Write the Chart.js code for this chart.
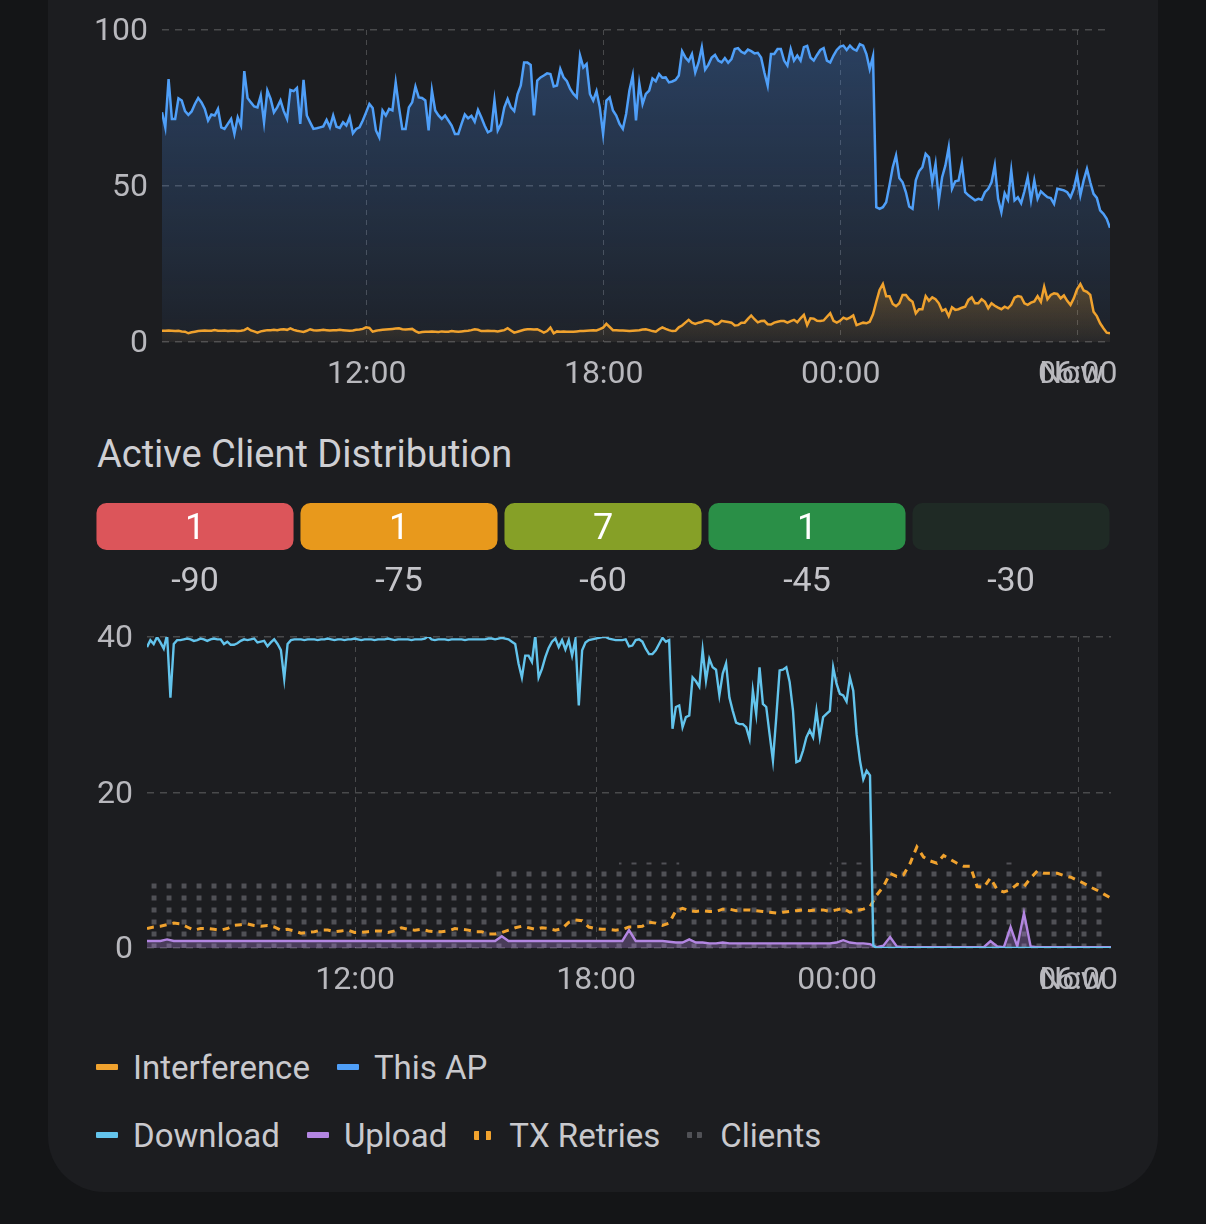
<!DOCTYPE html>
<html>
<head>
<meta charset="utf-8">
<script src="https://cdn.jsdelivr.net/npm/chart.js@4.4.1/dist/chart.umd.min.js"></script>
<style>
  html, body { margin: 0; padding: 0; width: 1206px; height: 1224px; overflow: hidden; background: #141517; font-family: Roboto, sans-serif; }
  .card { position: absolute; left: 48px; top: -80px; width: 1110px; height: 1272px; border-radius: 56px; background: #1c1d20; }
  .wrap { position: absolute; }
  .title { position: absolute; left: 97px; top: 432px; font-size: 38px; line-height: 44px; color: #cfcfd3; }
  .legend { position: absolute; left: 96px; height: 40px; display: flex; align-items: center; font-size: 33px; color: #c9c9cd; }
  .item { display: flex; align-items: center; margin-right: 27px; }
  .mark { display: inline-block; width: 22px; height: 6px; border-radius: 1px; margin-right: 15px; }
  .mark.pair { width: 17px; height: 9px; margin-right: 18px; }
</style>
</head>
<body>
<div class="card"></div>
<div class="wrap" style="left:90px;top:0px"><canvas id="apChart" width="1040" height="395"></canvas></div>
<div class="title">Active Client Distribution</div>
<div class="wrap" style="left:90px;top:490px"><canvas id="distChart" width="1030" height="120"></canvas></div>
<div class="wrap" style="left:90px;top:600px"><canvas id="trafficChart" width="1040" height="410"></canvas></div>
<div class="legend" id="apLegend" style="top:1047px"></div>
<div class="legend" id="trafficLegend" style="top:1115px"></div>

<script>
// window: last 24 h, starting 06:49 yesterday
const windowStart = 6 * 60 + 49;
const timeLabels = ['12:00', '18:00', '00:00', '06:00'];
const nowLabelAt = 1382; // app draws "Now" over the 06:00 label

// channel utilisation (%), one value per 5 min
const AP_STEP = 5;
const thisAp = [
  73.6, 68.8, 84.3, 71.5, 71.5, 78.1, 77.4, 74.0, 72.8, 73.9,
  76.3, 78.2, 76.8, 74.7, 71.0, 72.9, 72.6, 74.7, 68.8, 68.3,
  69.9, 71.5, 66.7, 72.0, 69.4, 86.8, 78.2, 76.8, 75.5, 75.2,
  79.0, 70.4, 80.6, 77.9, 73.6, 75.2, 77.4, 74.0, 71.5, 80.8,
  80.4, 81.4, 69.9, 84.0, 72.6, 70.4, 68.3, 68.5, 68.8, 69.1,
  71.2, 68.8, 72.6, 69.0, 68.6, 70.4, 69.4, 72.0, 66.9, 68.3,
  68.8, 71.0, 73.6, 76.3, 75.0, 67.8, 65.6, 74.2, 72.6, 74.7,
  74.2, 83.2, 75.2, 68.3, 68.3, 75.2, 76.8, 81.9, 78.4, 78.2,
  77.4, 67.8, 80.6, 74.2, 72.6, 71.5, 72.6, 71.0, 69.4, 66.7,
  66.7, 69.9, 72.9, 71.7, 72.5, 70.6, 74.4, 72.0, 69.4, 67.2,
  67.8, 77.4, 67.8, 69.9, 75.2, 77.9, 75.2, 74.0, 79.4, 82.2,
  89.6, 89.6, 88.8, 72.6, 83.8, 84.8, 85.4, 86.1, 85.9, 81.9,
  82.2, 87.5, 84.8, 83.6, 81.1, 79.5, 78.4, 91.8, 88.0, 89.1,
  79.5, 77.4, 80.4, 75.2, 66.7, 77.4, 78.4, 74.2, 72.6, 69.9,
  68.3, 73.1, 80.6, 85.4, 71.0, 82.9, 76.3, 79.5, 80.6, 84.5,
  83.6, 85.9, 84.7, 84.8, 83.2, 83.5, 84.0, 85.4, 93.2, 91.2,
  90.0, 92.3, 86.4, 89.6, 94.5, 87.3, 88.9, 91.2, 92.0, 90.2,
  89.6, 91.0, 89.5, 90.7, 93.9, 94.2, 93.0, 92.5, 93.7, 93.2,
  92.5, 92.7, 91.2, 86.4, 82.2, 92.3, 92.3, 93.9, 93.9, 90.2,
  88.6, 93.9, 90.2, 91.8, 90.2, 94.5, 94.9, 91.2, 90.2, 92.0,
  93.6, 94.2, 90.2, 89.6, 91.8, 93.6, 94.7, 95.0, 93.6, 95.0,
  93.9, 93.4, 95.5, 95.0, 92.3, 87.5, 91.6, 43.2, 42.7, 43.2,
  44.8, 50.2, 56.0, 59.8, 52.6, 51.2, 48.0, 43.4, 42.7, 51.8,
  54.7, 56.0, 60.3, 59.2, 51.2, 57.1, 45.4, 52.8, 56.6, 62.4,
  49.1, 51.5, 51.8, 57.1, 48.0, 47.0, 46.2, 45.4, 45.9, 45.6,
  48.0, 49.1, 51.2, 56.6, 45.9, 41.6, 47.7, 45.6, 55.0, 45.4,
  46.4, 44.5, 48.3, 52.8, 45.4, 51.8, 45.9, 48.3, 47.3, 46.4,
  46.1, 44.3, 49.1, 48.9, 48.6, 48.0, 46.4, 49.1, 53.7, 47.0,
  51.8, 55.5, 51.2, 47.5, 46.2, 42.2, 41.1, 39.5, 36.6
];
const interference = [
  3.6, 3.6, 3.7, 3.6, 3.5, 3.6, 3.4, 3.3, 2.8, 3.1,
  3.3, 3.5, 3.6, 3.7, 3.6, 3.6, 3.8, 3.6, 3.6, 3.7,
  3.5, 3.6, 3.6, 3.5, 3.6, 3.8, 4.4, 3.7, 3.4, 3.0,
  3.4, 3.6, 3.8, 3.8, 3.9, 3.8, 4.0, 4.1, 3.9, 4.4,
  3.9, 3.6, 3.4, 3.2, 3.6, 4.1, 3.8, 3.7, 3.8, 3.9,
  3.8, 3.7, 3.8, 3.8, 3.9, 3.8, 3.7, 3.6, 3.7, 3.9,
  4.0, 4.2, 4.7, 4.5, 3.3, 3.6, 3.8, 3.9, 4.0, 4.1,
  4.2, 4.3, 4.4, 4.1, 4.0, 4.1, 4.2, 3.5, 3.0, 3.2,
  3.3, 3.3, 3.4, 3.3, 3.2, 3.4, 3.3, 3.3, 3.5, 3.4,
  3.3, 3.4, 3.5, 3.6, 3.8, 4.1, 3.9, 3.5, 3.5, 3.6,
  3.5, 3.5, 3.4, 3.6, 3.8, 4.4, 3.7, 3.0, 3.3, 3.6,
  3.9, 4.1, 4.1, 4.0, 4.1, 3.6, 3.0, 3.5, 4.6, 2.8,
  3.4, 3.3, 3.4, 3.3, 3.3, 3.3, 3.4, 3.5, 3.5, 3.6,
  3.7, 3.8, 3.7, 4.1, 4.6, 5.8, 4.8, 3.8, 3.8, 3.7,
  3.7, 3.6, 3.5, 3.6, 3.7, 3.8, 4.0, 4.1, 3.8, 3.5,
  3.3, 4.1, 4.7, 4.2, 3.8, 3.5, 3.6, 4.7, 5.3, 6.2,
  7.1, 6.2, 5.8, 6.2, 6.4, 6.9, 6.8, 6.5, 5.6, 5.8,
  6.8, 6.6, 6.4, 6.2, 5.3, 5.4, 6.2, 6.2, 7.4, 8.5,
  7.3, 6.3, 6.7, 6.8, 5.7, 5.6, 6.2, 6.5, 6.7, 6.7,
  6.2, 6.7, 7.1, 6.3, 7.6, 8.7, 5.4, 7.6, 7.5, 6.8,
  6.7, 6.9, 8.1, 9.2, 6.8, 6.2, 6.8, 7.8, 7.3, 7.8,
  8.5, 5.4, 5.8, 6.2, 6.0, 6.5, 8.9, 12.9, 16.7, 18.6,
  14.7, 14.7, 12.2, 11.5, 12.4, 15.1, 15.1, 13.7, 12.9, 9.2,
  10.5, 10.5, 14.7, 13.2, 14.3, 13.7, 12.4, 10.0, 10.5, 8.3,
  11.1, 10.3, 10.5, 11.0, 11.3, 13.5, 14.3, 12.4, 12.4, 13.7,
  12.9, 10.8, 12.4, 11.6, 11.0, 10.5, 11.3, 10.8, 11.9, 14.2,
  14.7, 14.5, 12.4, 11.9, 12.6, 13.0, 14.7, 12.9, 17.7, 13.7,
  15.1, 15.6, 15.4, 14.0, 14.9, 13.2, 11.9, 14.0, 16.9, 18.6,
  16.5, 16.1, 15.1, 9.7, 8.3, 6.0, 4.4, 3.0, 2.8
];

// RSSI buckets (dBm) and active clients in each
const rssiBins = ['-90', '-75', '-60', '-45', '-30'];
const rssiCounts = [1, 1, 7, 1, 0];
const binColors = ['#dc555a', '#e8991c', '#86a027', '#2a8f47', '#1f2a25'];

// traffic chart: download per 5 min
const RATE_STEP = 5;
const download = [
  38.7, 39.6, 39.1, 40.0, 39.3, 38.5, 40.3, 32.2, 39.1, 39.6,
  39.6, 39.7, 39.8, 39.7, 39.5, 39.6, 39.8, 39.7, 39.5, 39.7,
  39.8, 39.7, 39.7, 39.1, 39.4, 39.0, 39.0, 39.2, 39.5, 39.7,
  39.6, 39.7, 39.8, 39.3, 39.4, 39.5, 38.8, 39.3, 39.7, 39.1,
  38.3, 34.6, 39.1, 39.6, 39.7, 39.7, 39.7, 39.6, 39.7, 39.7,
  39.7, 39.6, 39.7, 39.7, 39.8, 39.7, 39.6, 39.7, 39.7, 39.6,
  39.7, 39.7, 39.8, 39.7, 39.6, 39.7, 39.7, 39.7, 39.6, 39.7,
  39.7, 39.7, 39.8, 39.7, 39.6, 39.7, 39.7, 39.7, 39.7, 39.6,
  39.7, 39.7, 39.7, 39.8, 40.1, 39.7, 39.6, 39.7, 39.7, 39.7,
  39.6, 39.7, 39.7, 39.7, 39.7, 39.6, 39.7, 39.7, 39.7, 39.7,
  39.7, 39.7, 39.8, 39.8, 39.7, 39.8, 39.9, 39.8, 39.7, 39.4,
  39.1, 36.6, 34.8, 37.6, 37.6, 36.8, 40.2, 34.8, 35.9, 37.4,
  38.6, 39.4, 39.8, 38.7, 39.6, 38.4, 39.6, 37.6, 39.7, 31.2,
  38.3, 39.3, 39.6, 39.7, 39.8, 39.9, 40.0, 40.0, 39.8, 39.7,
  39.6, 39.6, 39.6, 39.7, 38.8, 38.9, 39.6, 39.7, 39.4, 38.5,
  37.8, 37.8, 38.3, 39.1, 39.9, 39.4, 39.6, 28.2, 31.0, 31.2,
  28.4, 29.7, 29.9, 34.8, 34.3, 33.6, 38.3, 34.4, 37.2, 36.1,
  35.8, 32.5, 35.3, 36.6, 32.2, 30.5, 29.0, 28.8, 28.8, 28.4,
  26.9, 33.1, 30.1, 36.1, 31.4, 31.0, 27.5, 24.1, 29.7, 35.7,
  35.8, 36.1, 34.2, 30.5, 23.9, 24.1, 25.4, 27.1, 28.0, 27.1,
  30.5, 27.1, 29.7, 30.1, 30.5, 36.1, 34.0, 32.7, 32.5, 31.7,
  34.8, 33.1, 27.5, 24.1, 21.7, 22.8, 22.2, 0.3, 0, 0,
  0, 0, 0, 0, 0, 0, 0, 0, 0, 0,
  0, 0, 0, 0, 0, 0, 0, 0, 0, 0,
  0, 0, 0, 0, 0, 0, 0, 0, 0, 0,
  0, 0, 0, 0, 0, 0, 0, 0, 0, 0,
  0, 0, 0, 0, 0, 0, 0, 0, 0, 0,
  0, 0, 0, 0, 0, 0, 0, 0, 0, 0,
  0, 0, 0, 0, 0, 0, 0, 0, 0
];

// upload and tx retries per 10 min
const SLOW_STEP = 10;
const upload = [
  0.9, 0.9, 0.9, 1.1, 0.9, 0.9, 0.9, 0.9, 0.9, 0.9,
  0.9, 0.9, 0.9, 0.9, 0.9, 0.9, 0.9, 0.9, 0.9, 0.9,
  0.9, 0.9, 0.9, 0.9, 0.9, 0.9, 0.9, 0.9, 0.9, 0.9,
  0.9, 0.9, 0.9, 0.9, 0.9, 0.9, 0.9, 0.9, 0.9, 0.9,
  0.9, 0.9, 0.9, 0.9, 0.9, 0.9, 0.9, 0.9, 0.9, 0.9,
  0.9, 0.9, 0.9, 1.5, 0.9, 0.9, 0.9, 0.9, 0.9, 0.9,
  0.9, 0.9, 0.9, 0.9, 0.9, 0.9, 0.9, 0.9, 0.9, 0.9,
  0.9, 0.9, 2.3, 0.9, 0.9, 0.9, 0.9, 0.9, 0.8, 0.7,
  0.7, 1.1, 0.7, 0.7, 0.6, 0.6, 0.7, 0.6, 0.6, 0.6,
  0.6, 0.6, 0.6, 0.6, 0.6, 0.6, 0.6, 0.6, 0.6, 0.6,
  0.6, 0.6, 0.6, 0.7, 1.0, 0.7, 0.6, 0.6, 0.5, 0.1,
  0.3, 1.4, 0.2, 0.1, 0.1, 0.1, 0.1, 0.1, 0.1, 0.1,
  0.1, 0.1, 0.1, 0.1, 0.1, 0.1, 0.9, 0.2, 0.1, 2.7,
  0.2, 4.5, 0.2, 0.1, 0.1, 0.1, 0.1, 0.1, 0.1, 0.1,
  0.1, 0.1, 0.1, 0.1, 0.1
];
const txRetries = [
  2.5, 2.7, 2.8, 3.0, 3.2, 3.1, 2.7, 2.3, 2.5, 2.5,
  2.4, 2.3, 2.5, 2.9, 3.0, 3.1, 2.9, 2.8, 2.9, 2.7,
  2.3, 2.4, 2.2, 1.9, 2.0, 2.1, 2.3, 2.3, 2.1, 2.2,
  2.3, 2.0, 2.0, 2.1, 2.2, 2.2, 2.0, 2.2, 2.6, 2.4,
  2.3, 2.4, 2.2, 2.1, 2.1, 2.2, 2.5, 2.4, 2.3, 2.1,
  2.1, 1.8, 1.8, 2.0, 2.3, 2.6, 2.8, 2.6, 2.4, 2.6,
  2.5, 2.3, 2.5, 3.3, 3.6, 3.5, 2.7, 2.5, 2.4, 2.4,
  2.3, 2.4, 2.7, 2.7, 2.8, 3.3, 3.2, 2.9, 3.2, 4.8,
  5.1, 4.8, 4.7, 4.8, 4.7, 4.7, 5.0, 5.0, 4.8, 4.9,
  4.9, 4.8, 4.7, 4.6, 4.5, 4.6, 4.7, 4.8, 4.9, 4.8,
  4.9, 4.9, 4.7, 4.9, 5.1, 4.6, 4.8, 5.0, 5.3, 6.8,
  7.9, 9.6, 9.2, 9.4, 10.9, 13.0, 11.7, 11.2, 10.9, 11.9,
  11.4, 10.9, 10.5, 10.5, 7.9, 7.8, 9.0, 7.5, 7.2, 7.5,
  8.2, 7.9, 9.0, 9.9, 9.6, 9.6, 9.6, 9.3, 9.1, 8.7,
  8.3, 7.8, 7.4, 6.9, 6.4
];

// connected clients per 15 min
const CLIENT_STEP = 15;
const clients = [
  9, 9, 9, 9, 9, 9, 9, 9, 9, 9, 9, 9, 9, 9, 9, 9, 9, 9, 9, 9,
  9, 9, 9, 9, 9, 9, 9, 9, 9, 9, 9, 9, 9, 9, 9,
  10, 10, 10, 10, 10, 10, 10, 10, 10, 10, 10, 10, 10,
  11, 11, 11, 11, 11, 11,
  10, 10, 10, 10, 10, 10, 10, 10, 10, 10, 10, 10, 10, 10, 10,
  11, 11, 11, 11,
  10, 10, 10, 10, 10, 10, 10, 10, 10, 10, 10, 10, 10,
  11, 11,
  10, 10, 10, 10, 10, 10, 10, 10, 10
];

Chart.defaults.font.family = 'Roboto, sans-serif';
Chart.defaults.font.size = 32;
Chart.defaults.color = '#b8b8bd';

const gridColor = 'rgba(255,255,255,0.2)';

const toPoints = (vals, step) => vals.map((y, i) => ({ x: i * step, y: y }));

function clockToOffset(label) {
  const [h, m] = label.split(':').map(Number);
  return (h * 60 + m - windowStart + 1440) % 1440;
}

function vGrad(context, from, to, topVal) {
  const chart = context.chart;
  const area = chart.chartArea;
  if (!area) return 'transparent';
  const y0 = topVal == null ? area.top : chart.scales.y.getPixelForValue(topVal);
  const g = chart.ctx.createLinearGradient(0, y0, 0, area.bottom);
  g.addColorStop(0, from);
  g.addColorStop(1, to);
  return g;
}

function timeAxis(height) {
  return {
    type: 'linear',
    min: 0,
    max: 1440,
    afterBuildTicks(scale) {
      const ticks = timeLabels.map(l => ({ value: clockToOffset(l) }));
      ticks.splice(3, 0, { value: nowLabelAt });
      scale.ticks = ticks;
    },
    afterFit(scale) {
      scale.height = height;
      scale.paddingLeft = 0;
      scale.paddingRight = 0;
    },
    ticks: {
      autoSkip: false,
      maxRotation: 0,
      padding: 14,
      callback(value, index) {
        const labels = timeLabels.slice();
        labels.splice(3, 0, 'Now');
        return labels[index];
      }
    },
    grid: {
      drawTicks: false,
      lineWidth: 1,
      color: ctx => (ctx.tick && ctx.tick.value === nowLabelAt) ? 'transparent' : gridColor
    },
    border: { display: false, dash: [5, 5] }
  };
}

function valueAxis(max, step, width) {
  return {
    min: 0,
    max: max,
    afterFit(scale) {
      scale.width = width;
      scale.paddingTop = 0;
      scale.paddingBottom = 0;
    },
    ticks: { stepSize: step, padding: 14, labelOffset: 2 },
    grid: { drawTicks: false, lineWidth: 1.5, color: gridColor },
    border: { display: false, dash: [7, 6] }
  };
}

const baseOptions = {
  responsive: false,
  animation: false,
  events: [],
  plugins: { legend: { display: false }, tooltip: { enabled: false } },
  elements: { point: { radius: 0 }, line: { tension: 0 } }
};

// --- AP utilisation chart ---
const apChart = new Chart(document.getElementById('apChart'), {
  type: 'line',
  data: {
    datasets: [
      {
        label: 'Interference',
        data: toPoints(interference, AP_STEP),
        borderColor: '#f0a22e',
        borderWidth: 2.5,
        fill: 'origin',
        backgroundColor: ctx => vGrad(ctx, 'rgba(240,162,46,0.28)', 'rgba(240,162,46,0.05)', 20)
      },
      {
        label: 'This AP',
        data: toPoints(thisAp, AP_STEP),
        borderColor: '#4f9ff8',
        borderWidth: 2.5,
        fill: 'origin',
        backgroundColor: ctx => vGrad(ctx, 'rgba(70,135,225,0.34)', 'rgba(70,135,225,0.05)')
      }
    ]
  },
  options: Object.assign({}, baseOptions, {
    layout: { padding: { top: 30, right: 20, left: 0, bottom: 0 } },
    scales: { x: timeAxis(53), y: valueAxis(100, 50, 72) }
  })
});

// --- client distribution strip ---
const countLabels = {
  id: 'countLabels',
  afterDatasetsDraw(chart) {
    const c = chart.ctx;
    const meta = chart.getDatasetMeta(0);
    c.save();
    c.font = '36px Roboto, sans-serif';
    c.fillStyle = '#ffffff';
    c.textAlign = 'center';
    c.textBaseline = 'middle';
    meta.data.forEach((bar, i) => {
      if (rssiCounts[i] > 0) c.fillText(String(rssiCounts[i]), bar.x, (bar.y + bar.base) / 2 + 3);
    });
    c.restore();
  }
};

new Chart(document.getElementById('distChart'), {
  type: 'bar',
  data: {
    labels: rssiBins,
    datasets: [{
      data: rssiBins.map(() => 1),
      backgroundColor: binColors,
      borderRadius: 10,
      borderSkipped: false,
      categoryPercentage: 1,
      barPercentage: 0.966
    }]
  },
  options: Object.assign({}, baseOptions, {
    layout: { padding: { top: 13, left: 3, right: 7, bottom: 0 } },
    scales: {
      x: {
        afterFit(scale) {
          scale.height = 60;
          scale.paddingLeft = 0;
          scale.paddingRight = 0;
        },
        ticks: { padding: 12, color: '#c4c4c9', font: { size: 34 } },
        grid: { display: false, drawTicks: false },
        border: { display: false }
      },
      y: { display: false, min: 0, max: 1 }
    }
  }),
  plugins: [countLabels]
});

// --- traffic chart ---
const dotTile = document.createElement('canvas');
dotTile.width = 15;
dotTile.height = 12;
const dctx = dotTile.getContext('2d');
dctx.fillStyle = '#505156';
dctx.fillRect(0, 0, 5, 5);
const trafficCanvas = document.getElementById('trafficChart');
const dots = trafficCanvas.getContext('2d').createPattern(dotTile, 'repeat');

const dotAlign = {
  id: 'dotAlign',
  beforeDatasetsDraw(chart) {
    const x0 = chart.chartArea.left + 4.5;
    const y0 = chart.scales.y.getPixelForValue(0) - 4.5;
    dots.setTransform(new DOMMatrix().translate(x0, y0));
  }
};

const trafficChart = new Chart(trafficCanvas, {
  type: 'line',
  data: {
    datasets: [
      {
        label: 'Download',
        data: toPoints(download, RATE_STEP),
        borderColor: '#63c4ec',
        borderWidth: 2.4,
        fill: false
      },
      {
        label: 'Upload',
        data: toPoints(upload, SLOW_STEP),
        borderColor: '#b386e2',
        borderWidth: 2.4,
        fill: 'origin',
        backgroundColor: 'rgba(179,134,226,0.3)'
      },
      {
        label: 'TX Retries',
        data: toPoints(txRetries, SLOW_STEP),
        borderColor: '#f0a22e',
        borderWidth: 3,
        borderDash: [7, 6],
        fill: false
      },
      {
        label: 'Clients',
        data: toPoints(clients, CLIENT_STEP),
        stepped: 'after',
        borderColor: 'transparent',
        borderWidth: 0,
        fill: 'origin',
        backgroundColor: dots
      }
    ]
  },
  options: Object.assign({}, baseOptions, {
    layout: { padding: { top: 37, right: 19, left: 0, bottom: 0 } },
    scales: { x: timeAxis(62), y: valueAxis(40, 20, 57) }
  }),
  plugins: [dotAlign]
});

// html legends built from the datasets
function buildLegend(chart, el) {
  chart.data.datasets.forEach(ds => {
    const item = document.createElement('div');
    item.className = 'item';
    const mark = document.createElement('span');
    mark.className = 'mark';
    if (ds.borderDash) {
      mark.className = 'mark pair';
      mark.style.background = `linear-gradient(to right, ${ds.borderColor} 0 5px, transparent 5px 12px, ${ds.borderColor} 12px 17px)`;
    } else if (ds.stepped) {
      mark.className = 'mark pair';
      mark.style.height = '6px';
      mark.style.width = '15px';
      mark.style.background = 'linear-gradient(to right, #505156 0 5px, transparent 5px 10px, #505156 10px 15px)';
    } else {
      mark.style.background = ds.borderColor;
    }
    const text = document.createElement('span');
    text.textContent = ds.label;
    item.appendChild(mark);
    item.appendChild(text);
    el.appendChild(item);
  });
}
buildLegend(apChart, document.getElementById('apLegend'));
buildLegend(trafficChart, document.getElementById('trafficLegend'));
</script>
</body>
</html>
